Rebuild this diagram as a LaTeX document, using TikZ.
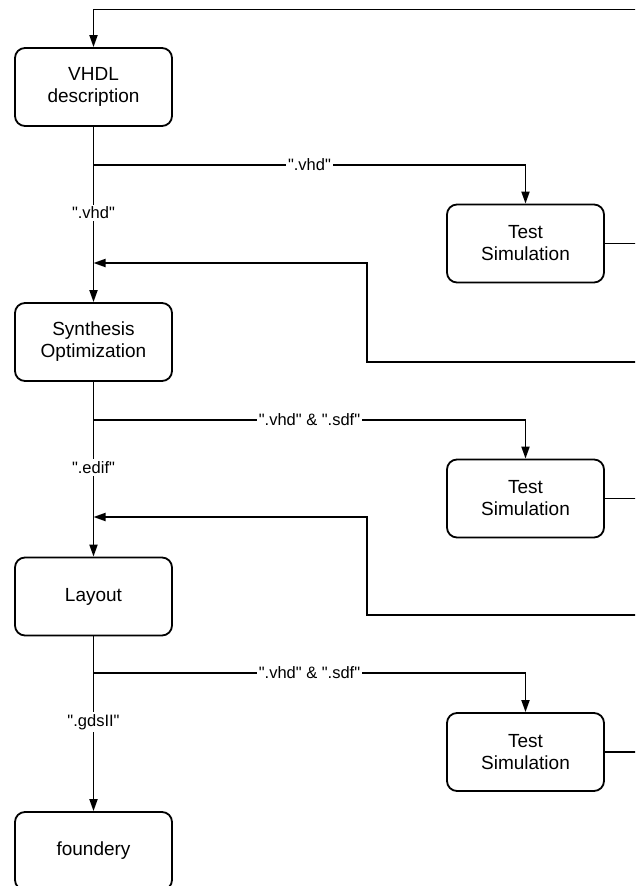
\documentclass[tikz,border=0pt]{standalone}
\usepackage{fontspec}
\setmainfont{Liberation Sans}
\usetikzlibrary{arrows.meta}
\newcommand{\qq}[1]{\textquotedbl#1\textquotedbl}
\begin{document}
\begin{tikzpicture}[x=1pt,y=-1pt,
  flowbox/.style={draw,line width=1.8pt,rounded corners=10pt,minimum width=157pt,minimum height=78pt,align=center,inner sep=0pt,font=\fontsize{19}{22}\selectfont},
  conn/.style={line width=1.8pt},
  arr/.style={conn,-{Triangle[length=12pt,width=8pt]}},
  lab/.style={fill=white,inner sep=2pt,font=\fontsize{16.5}{19}\selectfont}]
\clip (0,0) rectangle (635,886);
% main boxes
\node[flowbox] (vhdl) at (93.5,87) {VHDL\\description};
\node[flowbox] (synth) at (93.5,342) {Synthesis\\Optimization};
\node[flowbox] (layout) at (93.5,596.5) {Layout};
\node[flowbox] (found) at (93.5,851) {foundery};
% test boxes
\node[flowbox] (t1) at (525.5,243.5) {Test\\Simulation};
\node[flowbox] (t2) at (525.5,498.5) {Test\\Simulation};
\node[flowbox] (t3) at (525.5,752) {Test\\Simulation};
% coordinates
\coordinate (top) at (640,9.5);
\coordinate (b1) at (93.5,165);
\coordinate (b2) at (93.5,420);
\coordinate (b3) at (93.5,673);
\coordinate (r1) at (640,243.5);
\coordinate (r2) at (640,498.5);
\coordinate (r3) at (640,752);
\coordinate (f1) at (640,362);
\coordinate (f2) at (640,615);
\coordinate (k1) at (367,263);
\coordinate (k2) at (367,517);
\coordinate (j1) at (93.5,263);
\coordinate (j2) at (93.5,517);
% connectors
\draw[arr] (top) -| (vhdl.north);
\draw[arr] (vhdl) -- node[lab,pos=0.49] {\qq{.vhd}} (synth);
\draw[arr] (synth) -- node[lab,pos=0.49] {\qq{.edif}} (layout);
\draw[arr] (layout) -- node[lab,pos=0.49] {\qq{.gdsII}} (found);
\draw[arr] (b1) -| node[lab,pos=0.25] {\qq{.vhd}} (t1.north);
\draw[arr] (b2) -| node[lab,pos=0.25] {\qq{.vhd} \& \qq{.sdf}} (t2.north);
\draw[arr] (b3) -| node[lab,pos=0.25] {\qq{.vhd} \& \qq{.sdf}} (t3.north);
\draw[conn] (t1.east) -- (r1);
\draw[conn] (t2.east) -- (r2);
\draw[conn] (t3.east) -- (r3);
\draw[arr] (f1) -| (k1) -- (j1);
\draw[arr] (f2) -| (k2) -- (j2);
\end{tikzpicture}
\end{document}
